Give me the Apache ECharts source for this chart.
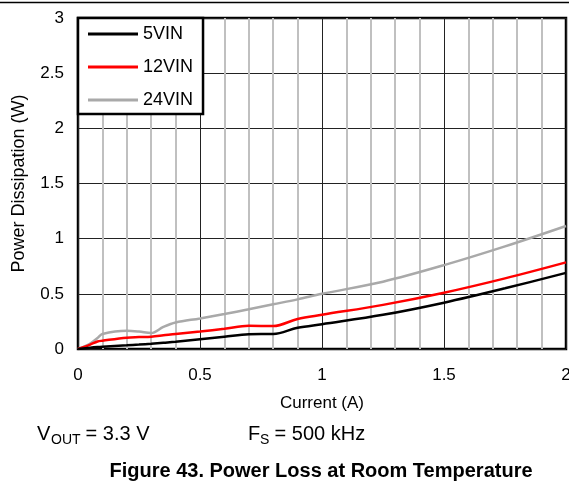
<!DOCTYPE html>
<html>
<head>
<meta charset="utf-8">
<script src="https://cdn.jsdelivr.net/npm/echarts@6/dist/echarts.min.js"></script>
<style>
html,body{margin:0;padding:0;background:#fff;}
#c{width:569px;height:491px;}
</style>
</head>
<body>
<div id="c"></div>
<script>
const current = [0, 0.05, 0.08, 0.1, 0.2, 0.25, 0.3, 0.35, 0.4, 0.5, 0.6, 0.7, 0.8, 0.9, 1.0, 1.25, 1.5, 1.75, 2.0];
const vin5  = [0, 0.012, 0.018, 0.021, 0.033, 0.040, 0.048, 0.057, 0.066, 0.088, 0.111, 0.134, 0.136, 0.192, 0.225, 0.31, 0.42, 0.55, 0.69];
const vin12 = [0, 0.040, 0.068, 0.075, 0.103, 0.108, 0.112, 0.124, 0.137, 0.158, 0.183, 0.211, 0.208, 0.272, 0.31, 0.40, 0.51, 0.64, 0.785];
const vin24 = [0, 0.050, 0.100, 0.136, 0.165, 0.158, 0.145, 0.200, 0.240, 0.277, 0.317, 0.360, 0.405, 0.450, 0.50, 0.61, 0.76, 0.93, 1.115];
const seriesNames = ['5VIN', '12VIN', '24VIN'];
const xTicks = { min: 0, max: 2, interval: 0.5 };
const yTicks = { min: 0, max: 3, interval: 0.5 };

const FONT = 'Liberation Sans, Arial, sans-serif';
const pairs = v => current.map((x, i) => [x, v[i]]);
const colors = ['#000000', '#ff0000', '#a9a9a9'];
const vals = [vin5, vin12, vin24];

const chart = echarts.init(document.getElementById('c'), null, { renderer: 'canvas' });
chart.setOption({
  animation: false,
  backgroundColor: '#fff',
  textStyle: { fontFamily: FONT },
  grid: { left: 78, top: 18, right: 3, bottom: 142, containLabel: false, outerBoundsMode: 'none', show: true, borderColor: '#000', borderWidth: 2.5, backgroundColor: 'transparent' },
  legend: {
    orient: 'vertical', left: 78, top: 18,
    backgroundColor: '#fff', borderColor: '#000', borderWidth: 2.5,
    padding: [7, 10, 5, 10],
    icon: 'rect', itemWidth: 50, itemHeight: 3, itemGap: 15,
    textStyle: { fontSize: 18, color: '#000', fontFamily: FONT, lineHeight: 18 },
    data: seriesNames
  },
  xAxis: {
    type: 'value', min: xTicks.min, max: xTicks.max, interval: xTicks.interval,
    name: 'Current (A)', nameLocation: 'middle', nameGap: 46,
    nameTextStyle: { fontSize: 17, color: '#000', fontFamily: FONT },
    axisLine: { show: false },
    axisTick: { show: false },
    axisLabel: { fontSize: 17, color: '#000', margin: 18, fontFamily: FONT, showMaxLabel: true },
    splitLine: { show: true, lineStyle: { color: '#222', width: 1 } },
    minorTick: { show: false, splitNumber: 5 },
    minorSplitLine: { show: true, lineStyle: { color: '#c0c0c0', width: 2 } }
  },
  yAxis: {
    type: 'value', min: yTicks.min, max: yTicks.max, interval: yTicks.interval,
    name: 'Power Dissipation (W)', nameLocation: 'middle', nameGap: 50,
    nameTextStyle: { fontSize: 18, color: '#000', fontFamily: FONT },
    axisLine: { show: false },
    axisTick: { show: false },
    axisLabel: { fontSize: 17, color: '#000', margin: 14, fontFamily: FONT },
    splitLine: { show: true, lineStyle: { color: '#222', width: 1 } }
  },
  series: seriesNames.map((n, i) => ({
    name: n, type: 'line', data: pairs(vals[i]),
    smooth: 0.35, symbol: 'none', showSymbol: false,
    lineStyle: { color: colors[i], width: 2.5 },
    itemStyle: { color: colors[i] },
    z: 3 + (2 - i)
  })),
  graphic: [
    { type: 'line', shape: { x1: 0, y1: 2.5, x2: 569, y2: 2.5 }, style: { stroke: '#000', lineWidth: 1.5 } },
    { type: 'text', x: 37, y: 434, style: { text: 'V', fontSize: 20, fontFamily: FONT, fill: '#000', textVerticalAlign: 'middle', verticalAlign: 'middle' } },
    { type: 'text', x: 51, y: 440, style: { text: 'OUT', fontSize: 14, fontFamily: FONT, fill: '#000', textVerticalAlign: 'middle', verticalAlign: 'middle' } },
    { type: 'text', x: 80, y: 434, style: { text: ' = 3.3 V', fontSize: 20, fontFamily: FONT, fill: '#000', textVerticalAlign: 'middle', verticalAlign: 'middle' } },
    { type: 'text', x: 248, y: 434, style: { text: 'F', fontSize: 20, fontFamily: FONT, fill: '#000', textVerticalAlign: 'middle', verticalAlign: 'middle' } },
    { type: 'text', x: 260, y: 440, style: { text: 'S', fontSize: 14, fontFamily: FONT, fill: '#000', textVerticalAlign: 'middle', verticalAlign: 'middle' } },
    { type: 'text', x: 269, y: 434, style: { text: ' = 500 kHz', fontSize: 20, fontFamily: FONT, fill: '#000', textVerticalAlign: 'middle', verticalAlign: 'middle' } },
    { type: 'text', x: 321, y: 471, style: { text: 'Figure 43. Power Loss at Room Temperature', fontSize: 20, fontWeight: 'bold', fontFamily: FONT, fill: '#000', textAlign: 'center', align: 'center', textVerticalAlign: 'middle', verticalAlign: 'middle' } }
  ]
});
</script>
</body>
</html>
